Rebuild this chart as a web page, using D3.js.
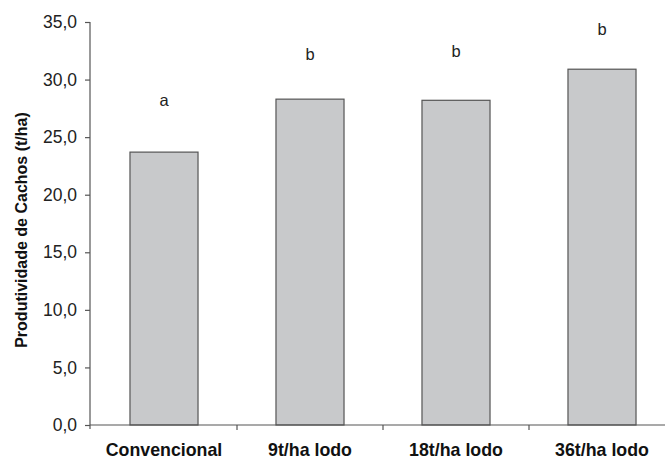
<!DOCTYPE html>
<html>
<head>
<meta charset="utf-8">
<script src="https://cdn.jsdelivr.net/npm/d3@7"></script>
<style>
  body { margin: 0; background: #fff; }
  svg { display: block; font-family: "Liberation Sans", Arial, sans-serif; }
</style>
</head>
<body>
<svg id="chart"></svg>
<script>
// data
const categories = ["Convencional", "9t/ha lodo", "18t/ha lodo", "36t/ha lodo"];
const productivity = [23.7, 28.3, 28.2, 30.9];
const letters = ["a", "b", "b", "b"];
const letterLevel = [27.7, 31.7, 32.0, 33.9]; // height of the letters, in t/ha
const yTicks = [0, 5, 10, 15, 20, 25, 30, 35];

const width = 665, height = 459;

const svg = d3.select("#chart")
  .attr("width", width)
  .attr("height", height);

// scales
const x = d3.scaleBand()
  .domain(categories)
  .range([91, 675])
  .padding(0);

const y = d3.scaleLinear()
  .domain([0, 35])
  .range([425, 22]);

const barW = x.bandwidth() * 0.466;

// bars
svg.selectAll(".bar")
  .data(productivity)
  .enter().append("rect")
  .attr("class", "bar")
  .attr("x", (d, i) => x(categories[i]) + x.bandwidth() / 2 - barW / 2)
  .attr("width", barW)
  .attr("y", d => y(d))
  .attr("height", d => y(0) - y(d))
  .attr("fill", "#c8c9cb")
  .attr("stroke", "#555")
  .attr("stroke-width", 1.2);

// letters above bars
svg.selectAll(".letter")
  .data(letters)
  .enter().append("text")
  .attr("class", "letter")
  .attr("x", (d, i) => x(categories[i]) + x.bandwidth() / 2)
  .attr("y", (d, i) => y(letterLevel[i]))
  .attr("text-anchor", "middle")
  .attr("font-size", "16.5px")
  .attr("fill", "#222")
  .text(d => d);

// y axis
const yAxis = svg.append("g")
  .attr("transform", "translate(90,0)")
  .call(d3.axisLeft(y)
    .tickValues(yTicks)
    .tickSize(5)
    .tickSizeOuter(0)
    .tickPadding(8)
    .tickFormat(d => d3.format(".1f")(d).replace(".", ",")));

yAxis.select(".domain").attr("stroke", "#555").attr("stroke-width", 1.2)
  .attr("d", "M0," + y(35) + "V" + (y(0) + 4));
yAxis.selectAll(".tick line").attr("stroke", "#555").attr("stroke-width", 1.2);
yAxis.selectAll(".tick text")
  .attr("font-size", "17.5px")
  .attr("font-family", "Liberation Sans, Arial, sans-serif")
  .attr("fill", "#222");

// x axis line and separator ticks
svg.append("line")
  .attr("x1", 90).attr("x2", width)
  .attr("y1", y(0)).attr("y2", y(0))
  .attr("stroke", "#555").attr("stroke-width", 1.2);

svg.selectAll(".sep")
  .data(categories.slice(1))
  .enter().append("line")
  .attr("class", "sep")
  .attr("x1", d => x(d)).attr("x2", d => x(d))
  .attr("y1", y(0)).attr("y2", y(0) + 5)
  .attr("stroke", "#555").attr("stroke-width", 1.2);

// category labels
svg.selectAll(".cat")
  .data(categories)
  .enter().append("text")
  .attr("class", "cat")
  .attr("x", d => x(d) + x.bandwidth() / 2)
  .attr("y", 456)
  .attr("text-anchor", "middle")
  .attr("font-size", "17.8px")
  .attr("font-weight", "bold")
  .attr("fill", "#111")
  .text(d => d);

// y axis title
svg.append("text")
  .attr("transform", "translate(27,230) rotate(-90)")
  .attr("text-anchor", "middle")
  .attr("font-size", "16px")
  .attr("font-weight", "bold")
  .attr("fill", "#111")
  .text("Produtividade de Cachos (t/ha)");
</script>
</body>
</html>
